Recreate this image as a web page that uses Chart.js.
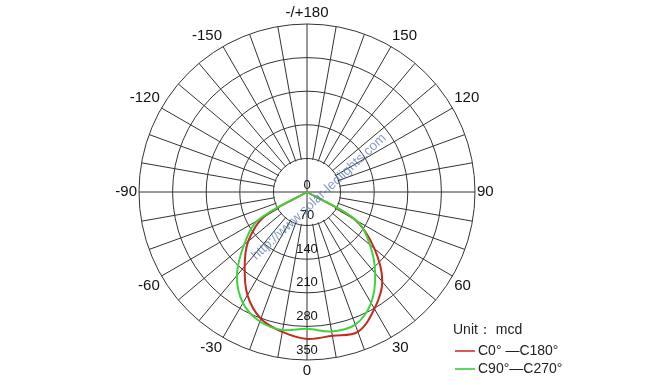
<!DOCTYPE html>
<html>
<head>
<meta charset="utf-8">
<script src="https://cdn.jsdelivr.net/npm/chart.js@4.4.1/dist/chart.umd.min.js"></script>
<style>
  html, body { margin: 0; padding: 0; background: #fff; }
  #wrap { width: 650px; height: 385px; }
</style>
</head>
<body>
<div id="wrap"><canvas id="polar" width="650" height="385"></canvas></div>
<script>
// angles (deg), clockwise from the bottom
const angles = [0, -10, -20, -30, -40, -50, -60, -70, -80, -90, -100, -110, -120, -130, -140, -150, -160, -170,
                180, 170, 160, 150, 140, 130, 120, 110, 100, 90, 80, 70, 60, 50, 40, 30, 20, 10];
const radialTicks = [0, 70, 140, 210, 280, 350];

// intensity in mcd, same order as angles
const c0_180 = [306, 296, 281, 248, 202, 160, 104, 0, 0, 0, 0, 0, 0, 0, 0, 0, 0, 0,
                0, 0, 0, 0, 0, 0, 0, 0, 0, 0, 0, 0, 115, 183, 244, 281, 310, 304];
const c90_270 = [285, 292, 287, 267, 227, 171, 118, 0, 0, 0, 0, 0, 0, 0, 0, 0, 0, 0,
                 0, 0, 0, 0, 0, 0, 0, 0, 0, 0, 0, 0, 119, 171, 221, 267, 294, 295];

const seriesNames = ['C0\u00b0 \u2014C180\u00b0', 'C90\u00b0\u2014C270\u00b0'];
const unitText = 'Unit\uff1a mcd';
const watermark = 'http://www.solar-ledlights.com';

const FONT = '"Liberation Sans", Arial, sans-serif';

function angleLabel(a) {
  if (a % 30 !== 0) return '';
  if (a === 180) return '-/+180';
  return String(a);
}

// inner hub: spokes start at the first ring, only the cross goes through
const hubPlugin = {
  id: 'hub',
  beforeDatasetsDraw(chart) {
    const s = chart.scales.r;
    const ctx = chart.ctx;
    const r1 = s.getDistanceFromCenterForValue(radialTicks[1]);
    ctx.save();
    ctx.fillStyle = '#fff';
    ctx.beginPath();
    ctx.arc(s.xCenter, s.yCenter, r1 - 1, 0, Math.PI * 2);
    ctx.fill();
    ctx.strokeStyle = '#333';
    ctx.lineWidth = 1;
    ctx.beginPath();
    ctx.moveTo(s.xCenter - r1, s.yCenter);
    ctx.lineTo(s.xCenter + r1, s.yCenter);
    ctx.moveTo(s.xCenter, s.yCenter - r1);
    ctx.lineTo(s.xCenter, s.yCenter + r1);
    ctx.stroke();
    ctx.restore();
  },
  afterDatasetsDraw(chart) {
    const s = chart.scales.r;
    const ctx = chart.ctx;
    ctx.save();
    ctx.font = '13px ' + FONT;
    ctx.fillStyle = '#111';
    ctx.textAlign = 'center';
    ctx.textBaseline = 'middle';
    radialTicks.forEach(v => {
      const d = s.getDistanceFromCenterForValue(v);
      ctx.fillText(String(v), s.xCenter, s.yCenter + Math.max(d - 10, -7));
    });
    // watermark
    ctx.translate(s.xCenter + 12, s.yCenter + 5);
    ctx.rotate(-43 * Math.PI / 180);
    ctx.font = '13.5px ' + FONT;
    ctx.fillStyle = 'rgba(70, 105, 165, 0.65)';
    ctx.fillText(watermark, 0, 0);
    ctx.restore();
  },
  afterDraw(chart) {
    const ctx = chart.ctx;
    const x = 453, y = 330;
    ctx.save();
    ctx.font = '14px ' + FONT;
    ctx.fillStyle = '#222';
    ctx.textBaseline = 'middle';
    ctx.fillText(unitText, x, y);
    chart.data.datasets.forEach((ds, i) => {
      const yy = y + 21 + i * 18;
      ctx.strokeStyle = ds.legendColor;
      ctx.lineWidth = 2;
      ctx.beginPath();
      ctx.moveTo(x + 2, yy);
      ctx.lineTo(x + 22, yy);
      ctx.stroke();
      ctx.fillStyle = '#222';
      ctx.fillText(ds.label, x + 25, yy);
    });
    ctx.restore();
  }
};

new Chart(document.getElementById('polar'), {
  type: 'radar',
  data: {
    labels: angles,
    datasets: [
      {
        label: seriesNames[0],
        data: c0_180,
        borderColor: '#c42a22',
        legendColor: '#e05a55',
        borderWidth: 2,
        fill: false,
        pointRadius: 0,
        tension: 0.35,
        order: 1
      },
      {
        label: seriesNames[1],
        data: c90_270,
        borderColor: '#3ed43e',
        legendColor: '#5ed85e',
        borderWidth: 2,
        fill: false,
        pointRadius: 0,
        tension: 0.35,
        order: 0
      }
    ]
  },
  options: {
    responsive: false,
    devicePixelRatio: 1,
    animation: false,
    layout: { padding: { left: 0, right: 36, top: 4, bottom: 4 } },
    plugins: { legend: { display: false }, tooltip: { enabled: false } },
    scales: {
      r: {
        startAngle: 180,
        min: 0,
        max: 350,
        ticks: { stepSize: 70, display: false },
        grid: { circular: true, color: '#333', lineWidth: 1 },
        angleLines: { color: '#333', lineWidth: 1 },
        pointLabels: {
          padding: 2,
          color: '#111',
          font: { family: FONT, size: 15 },
          callback: (label) => angleLabel(label)
        }
      }
    }
  },
  plugins: [hubPlugin]
});
</script>
</body>
</html>
